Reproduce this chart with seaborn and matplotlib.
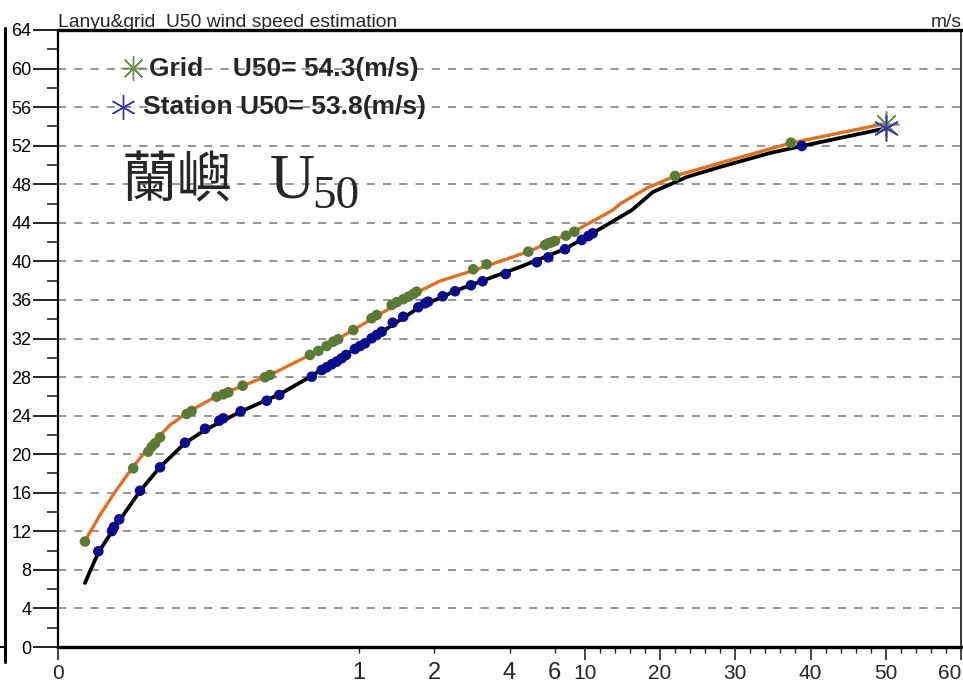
import matplotlib
matplotlib.use("Agg")
import matplotlib.pyplot as plt
import matplotlib.transforms as mtransforms
from matplotlib.lines import Line2D
import seaborn as sns

# ---------------- data ----------------
# x is the position along the (custom) return-period axis, y is wind speed (m/s)
grid_x = [1.79, 5.00, 6.00, 6.23, 6.45, 6.78, 8.55, 8.88, 10.54, 10.98, 11.32, 12.27,
          13.75, 14.09, 16.74, 17.30, 17.85, 18.29, 18.62, 19.62, 20.84, 21.18, 22.17,
          22.50, 22.94, 23.28, 23.61, 23.83, 27.59, 28.48, 31.25, 32.36, 32.58, 32.80,
          33.02, 33.75, 34.31, 41.00, 48.70]
grid_y = [10.94, 18.54, 20.26, 20.78, 21.13, 21.75, 24.17, 24.48, 25.96, 26.21, 26.42, 27.11,
          27.98, 28.22, 30.29, 30.71, 31.22, 31.67, 31.92, 32.88, 34.10, 34.44, 35.48,
          35.76, 36.07, 36.34, 36.62, 36.86, 39.18, 39.70, 41.01, 41.70, 41.88, 41.98,
          42.12, 42.67, 43.08, 48.86, 52.31]

station_x = [2.68, 3.59, 3.72, 4.07, 5.45, 6.78, 8.44, 9.77, 10.72, 10.98, 12.14, 13.87,
             14.70, 16.86, 17.52, 17.85, 18.19, 18.52, 18.85, 19.14, 19.73, 20.07, 20.40,
             20.84, 21.18, 21.51, 22.24, 22.94, 23.94, 24.39, 24.60, 25.56, 26.38, 27.44,
             28.21, 29.75, 31.81, 32.58, 33.69, 34.80, 35.24, 35.53, 49.42]
station_y = [9.93, 12.03, 12.45, 13.25, 16.21, 18.64, 21.19, 22.64, 23.48, 23.72, 24.45, 25.55,
             26.14, 28.04, 28.73, 29.01, 29.33, 29.60, 29.95, 30.29, 30.91, 31.22, 31.50,
             32.02, 32.37, 32.71, 33.64, 34.26, 35.24, 35.65, 35.82, 36.38, 36.90, 37.52,
             37.94, 38.69, 39.91, 40.42, 41.26, 42.22, 42.63, 42.91, 51.97]

grid_fit_x = [1.79, 2.79, 3.79, 4.98, 6.11, 7.44, 8.77, 10.43, 12.09, 14.09, 16.74, 19.40,
              21.40, 24.05, 25.38, 27.71, 31.36, 34.35, 36.88, 37.34, 39.14, 41.00, 43.99,
              48.70, 55.0]
grid_fit_y = [11.00, 13.69, 16.08, 18.67, 20.85, 23.03, 24.48, 25.93, 26.97, 28.22, 30.29,
              32.68, 34.54, 36.93, 37.96, 39.11, 41.08, 43.15, 45.33, 45.95, 47.61, 48.86,
              50.21, 52.28, 54.3]

station_fit_x = [1.79, 2.66, 3.65, 5.45, 6.78, 8.44, 9.77, 12.09, 14.75, 16.74, 19.07, 21.40,
                 24.05, 26.38, 28.17, 30.70, 33.69, 35.55, 38.14, 39.53, 41.79, 43.99, 47.31,
                 49.44, 55.0]
station_fit_y = [6.64, 9.75, 12.14, 16.18, 18.67, 21.16, 22.51, 24.38, 26.24, 28.01, 30.29,
                 32.57, 35.27, 36.93, 37.97, 39.42, 41.29, 42.95, 45.33, 47.20, 48.76, 49.79,
                 51.24, 51.97, 53.8]

u50_x = [55.0]          # position of the 50-year return period
grid_u50 = [54.3]
station_u50 = [53.8]

xtick_pos = [0, 35, 40, 45, 50, 55, 60]
xtick_labels = ["0", "10", "20", "30", "40", "50", "60"]
xminor_pos = [20, 25, 30, 33] + [36, 37, 38, 39, 41, 42, 43, 44, 46, 47, 48, 49,
                                 51, 52, 53, 54, 56, 57, 58, 59]
xminor_labels = ["1", "2", "4", "6"] + [""] * 20
yticks = list(range(0, 65, 4))

title = "Lanyu&grid  U50 wind speed estimation"
unit = "m/s"
legend_grid = "Grid    U50= 54.3(m/s)"
legend_station = "Station U50= 53.8(m/s)"
big_label_cjk = "蘭嶼"

# ---------------- style ----------------
sns.set_theme(style="white")
plt.rcParams["font.family"] = ["Liberation Sans Narrow", "Liberation Sans", "DejaVu Sans"]

W, H = 963, 686
fig = plt.figure(figsize=(W / 100, H / 100), dpi=100)
fig.patch.set_facecolor("white")
ax = fig.add_axes([58 / W, 39 / H, 903 / W, 617 / H])
ax.set_facecolor("white")

c_orange = "#e0701f"
c_green = "#5a7a35"
c_blue = "#0b0b8e"
c_star_green = "#6f9157"
c_star_blue = "#3535b3"

sns.lineplot(x=grid_fit_x, y=grid_fit_y, sort=False, estimator=None, color=c_orange,
             linewidth=2.4, ax=ax, zorder=2)
sns.lineplot(x=station_fit_x, y=station_fit_y, sort=False, estimator=None, color="black",
             linewidth=2.7, ax=ax, zorder=2)
sns.scatterplot(x=grid_x, y=grid_y, color=c_green, s=58, edgecolor="none", ax=ax, zorder=3)
sns.scatterplot(x=station_x, y=station_y, color=c_blue, s=58, edgecolor="none", ax=ax, zorder=3)
ax.scatter(u50_x, grid_u50, marker=(8, 2, 0), s=330, color=c_star_green, linewidths=1.1, zorder=4)
ax.scatter(u50_x, station_u50, marker=(6, 2, 0), s=330, color=c_star_blue, linewidths=1.1, zorder=4)

ax.set_xlim(0, 60)
ax.set_ylim(0, 64)
ax.set_xlabel("")
ax.set_ylabel("")

# grid
ax.yaxis.grid(True, linestyle=(0, (4.5, 4.5)), color="#8c8c8c", linewidth=1.3)
ax.xaxis.grid(False)
ax.set_axisbelow(True)

# ticks
ax.set_yticks(yticks)
ax.set_yticks(list(range(2, 64, 4)), minor=True)
ax.set_xticks(xtick_pos, xtick_labels)
ax.set_xticks(xminor_pos, xminor_labels, minor=True)
ax.tick_params(axis="y", which="major", direction="out", length=18, width=1.2,
               labelsize=13, pad=1, left=True, colors="black")
ax.tick_params(axis="y", which="minor", direction="out", length=8, width=1.2, left=True)
ax.tick_params(axis="x", which="major", direction="out", length=9.5, width=1.2,
               labelsize=15, pad=3, bottom=True)
ax.tick_params(axis="x", which="minor", direction="out", length=4.5, width=1.0,
               labelsize=17, pad=6, bottom=True)
for lab in ax.get_xticklabels(minor=True):
    lab.set_fontfamily(["Liberation Sans", "DejaVu Sans"])
# keep the right-most tick label inside the picture
ax.get_xticklabels()[-1].set_horizontalalignment("right")

for side, lw in (("left", 1.6), ("bottom", 2.4), ("top", 2.4), ("right", 1.1)):
    ax.spines[side].set_visible(True)
    ax.spines[side].set_color("black")
    ax.spines[side].set_linewidth(lw)

# titles
fig.text(58 / W, 1 - 27 / H, title, fontsize=13.9, ha="left", va="baseline")
fig.text(1 - 1 / W, 1 - 27 / H, unit, fontsize=13.9, ha="right", va="baseline")

# legend-like labels (centered text with asterisk symbols)
px = mtransforms.blended_transform_factory(fig.transFigure, ax.transData)
ax.text(284 / W, 60, legend_grid, transform=px, fontsize=19, fontweight="bold",
        family=["Liberation Sans", "DejaVu Sans"], ha="center", va="center")
ax.text(284 / W, 56, legend_station, transform=px, fontsize=19, fontweight="bold",
        family=["Liberation Sans", "DejaVu Sans"], ha="center", va="center")
ax.scatter([133 / W], [60.1], transform=px, marker=(8, 2, 0), s=300, color=c_star_green,
           linewidths=1.0, zorder=4, clip_on=False)
ax.scatter([123 / W], [56.0], transform=px, marker=(6, 2, 0), s=300, color=c_star_blue,
           linewidths=1.0, zorder=4, clip_on=False)

# big station label
fig.text(122 / W, 1 - 181 / H, big_label_cjk, fontsize=40,
         family=["Noto Sans CJK TC", "DejaVu Sans"], ha="left", va="center")
fig.text(270 / W, 1 - 198 / H, "U", fontsize=45, family=["Liberation Serif", "DejaVu Serif"],
         ha="left", va="baseline")
fig.text(312 / W, 1 - 208 / H, "50", fontsize=34, family=["Liberation Serif", "DejaVu Serif"],
         ha="left", va="baseline")

# edge of the neighbouring panel on the left
fig.add_artist(Line2D([5 / W, 5 / W], [1 - 28 / H, 1 - 662 / H], transform=fig.transFigure,
                      color="black", linewidth=2.2))
fig.add_artist(Line2D([0, 5 / W], [1 - 647 / H, 1 - 647 / H], transform=fig.transFigure,
                      color="black", linewidth=1.5))

fig.savefig("out.png", dpi=100)
